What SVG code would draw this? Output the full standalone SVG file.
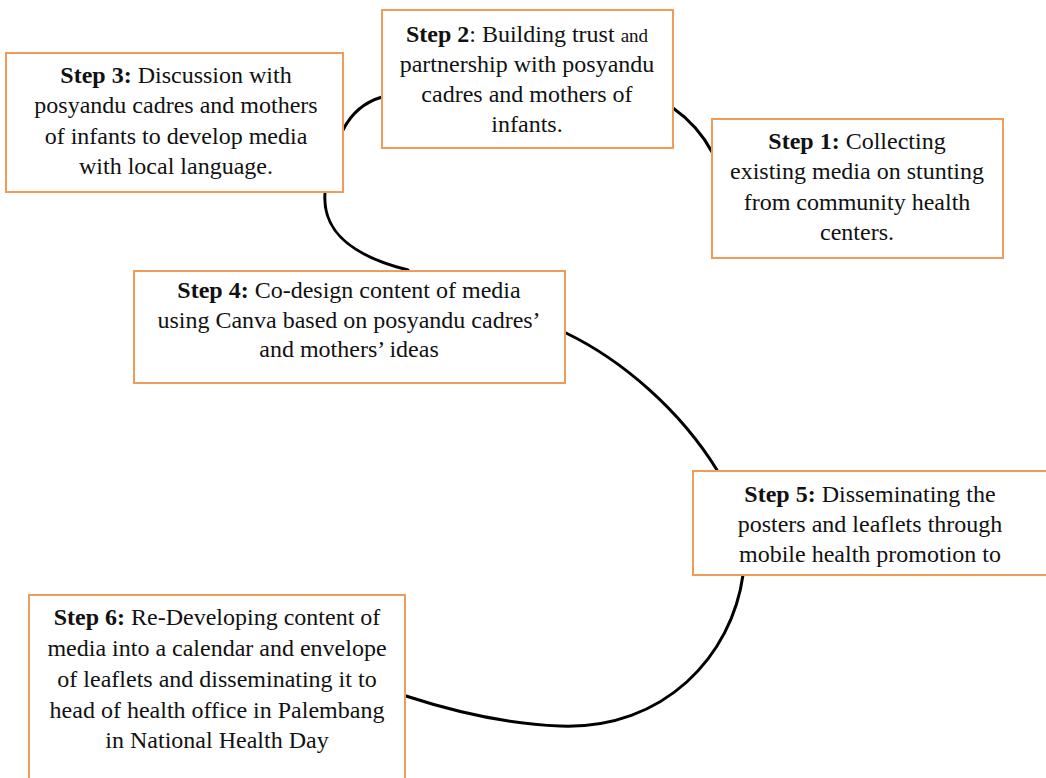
<svg xmlns="http://www.w3.org/2000/svg" width="1046" height="778" viewBox="0 0 1046 778">
<style>
.box{fill:#fff;stroke:#EF9B5A;stroke-width:2}
.t{font-family:'Liberation Serif','Times New Roman',serif;font-size:24px;fill:#111;text-anchor:middle}
.b{font-weight:bold}
.sm{font-size:19px}
.c{fill:none;stroke:#000;stroke-width:3;stroke-linecap:round}
</style>
<rect width="1046" height="778" fill="#fff"/>
<g id="connectors">
<path class="c" d="M343,130 C352,112 365,102 382,97"/>
<path class="c" d="M673,108 C690,120 703,135 712,152"/>
<path class="c" d="M325,193 C322,232 352,256 408,270"/>
<path class="c" d="M566,333 C622,360 680,410 717,470"/>
<path class="c" d="M743,575 C732,655 665,730 560,726 C505,724 455,712 406,696"/>
</g>
<g id="step2">
<rect class="box" x="382" y="10" width="291" height="138"/>
<text class="t" x="527" y="42"><tspan class="b">Step 2</tspan>: Building trust <tspan class="sm">and</tspan></text>
<text class="t" x="527" y="72">partnership with posyandu</text>
<text class="t" x="527" y="102">cadres and mothers of</text>
<text class="t" x="527" y="132">infants.</text>
</g>
<g id="step3">
<rect class="box" x="6" y="53" width="337" height="139"/>
<text class="t" x="176" y="83"><tspan class="b">Step 3:</tspan> Discussion with</text>
<text class="t" x="176" y="113">posyandu cadres and mothers</text>
<text class="t" x="176" y="144">of infants to develop media</text>
<text class="t" x="176" y="174">with local language.</text>
</g>
<g id="step1">
<rect class="box" x="712" y="119" width="291" height="139"/>
<text class="t" x="857" y="149"><tspan class="b">Step 1:</tspan> Collecting</text>
<text class="t" x="857" y="179">existing media on stunting</text>
<text class="t" x="857" y="210">from community health</text>
<text class="t" x="857" y="240">centers.</text>
</g>
<g id="step4">
<rect class="box" x="134" y="271" width="431" height="112"/>
<text class="t" x="349" y="298"><tspan class="b">Step 4:</tspan> Co-design content of media</text>
<text class="t" x="349" y="328">using Canva based on posyandu cadres’</text>
<text class="t" x="349" y="357">and mothers’ ideas</text>
</g>
<g id="step5">
<rect class="box" x="693" y="471" width="360" height="104"/>
<text class="t" x="870" y="502"><tspan class="b">Step 5:</tspan> Disseminating the</text>
<text class="t" x="870" y="532">posters and leaflets through</text>
<text class="t" x="870" y="562">mobile health promotion to</text>
</g>
<g id="step6">
<rect class="box" x="29" y="595" width="376" height="200"/>
<text class="t" x="217" y="625"><tspan class="b">Step 6:</tspan> Re-Developing content of</text>
<text class="t" x="217" y="656">media into a calendar and envelope</text>
<text class="t" x="217" y="687">of leaflets and disseminating it to</text>
<text class="t" x="217" y="718">head of health office in Palembang</text>
<text class="t" x="217" y="748">in National Health Day</text>
</g>
</svg>
